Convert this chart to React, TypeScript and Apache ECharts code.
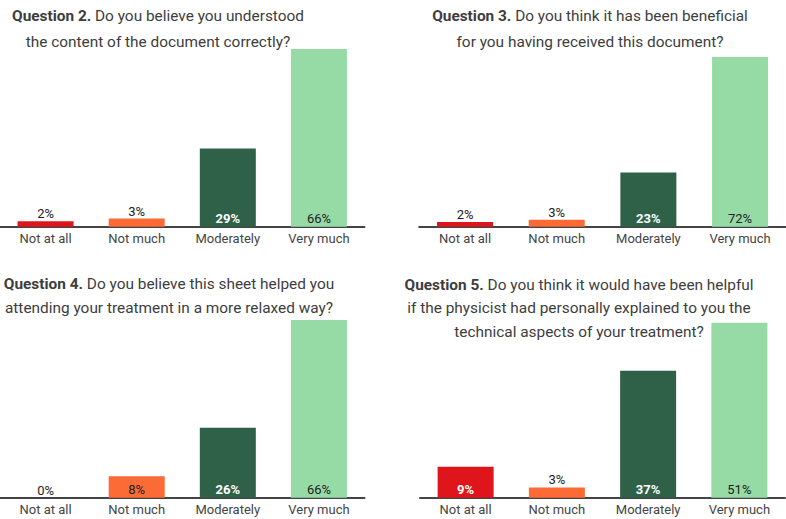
import React, { useEffect, useRef } from "react";
import * as echarts from "echarts";

const categories = ["Not at all", "Not much", "Moderately", "Very much"];
const q2Values = [2, 3, 29, 66];
const q3Values = [2, 3, 23, 72];
const q4Values = [0, 8, 26, 66];
const q5Values = [9, 3, 37, 51];
const barColors = ["#e0151b", "#fc6a35", "#2e6148", "#96dba5"];
const darkBar = [true, false, true, false];

const q2Title = ["{b|Question 2.} Do you believe you understood", "the content of the document correctly?"];
const q3Title = ["{b|Question 3.} Do you think it has been beneficial", "for you having received this document?"];
const q4Title = ["{b|Question 4.} Do you believe this sheet helped you", "attending your treatment in a more relaxed way?"];
const q5Title = [
  "{b|Question 5.} Do you think it would have been helpful",
  "if the physicist had personally explained to you the",
  "technical aspects of your treatment?",
];

const FONT = "Roboto";
const TITLE_SIZE = 15.4;

const panels = [
  { values: q2Values, title: q2Title, grid: { left: -1.5, top: 49, width: 366, height: 177.7 }, tx: 158, ty: [16, 42] },
  { values: q3Values, title: q3Title, grid: { left: 419.2, top: 57, width: 366.7, height: 169.7 }, tx: 590, ty: [16, 42] },
  { values: q4Values, title: q4Title, grid: { left: -1.5, top: 320, width: 366, height: 177.7 }, tx: 169, ty: [284, 308] },
  { values: q5Values, title: q5Title, grid: { left: 420, top: 322.7, width: 365, height: 175 }, tx: 579, ty: [285, 308, 332] },
];

export default function App() {
  const ref = useRef<HTMLDivElement>(null);
  useEffect(() => {
    document.body.style.margin = "0";
    if (!ref.current) return;
    const chart = echarts.init(ref.current, null, { renderer: "svg" });
    const grids: any[] = [];
    const xAxes: any[] = [];
    const yAxes: any[] = [];
    const series: any[] = [];
    const graphics: any[] = [];
    panels.forEach((p, i) => {
      grids.push({ ...p.grid, containLabel: false });
      xAxes.push({
        type: "category",
        gridIndex: i,
        data: categories,
        axisLine: { lineStyle: { color: "#444", width: 2 } },
        axisTick: { show: false },
        axisLabel: { color: "#444", fontSize: 13, fontFamily: FONT, margin: 5 },
      });
      yAxes.push({
        type: "value",
        gridIndex: i,
        min: 0,
        max: Math.max(...p.values),
        show: false,
        splitLine: { show: false },
      });
      series.push({
        type: "bar",
        xAxisIndex: i,
        yAxisIndex: i,
        barWidth: 56,
        data: p.values.map((v, k) => {
          const inside = v >= 5;
          const light = inside && darkBar[k];
          return {
            value: v,
            itemStyle: { color: barColors[k] },
            label: {
              show: true,
              position: inside ? "insideBottom" : "top",
              distance: inside ? 2 : 1,
              formatter: "{c}%",
              fontFamily: FONT,
              fontSize: 13,
              color: light ? "#ffffff" : "#222222",
              fontWeight: light ? "bold" : "normal",
            },
          };
        }),
      });
      p.title.forEach((line, j) => {
        graphics.push({
          type: "text",
          x: p.tx,
          y: p.ty[j],
          style: {
            text: line,
            fontFamily: FONT,
            fontSize: TITLE_SIZE,
            fill: "#3d3d3d",
            align: "center",
            verticalAlign: "middle",
            rich: {
              b: { fontFamily: FONT, fontSize: TITLE_SIZE, fontWeight: "bold", fill: "#3d3d3d", color: "#3d3d3d" },
            },
          },
        });
      });
    });
    chart.setOption({
      animation: false,
      backgroundColor: "#ffffff",
      grid: grids,
      xAxis: xAxes,
      yAxis: yAxes,
      series,
      graphic: graphics,
    });
    return () => chart.dispose();
  }, []);
  return <div ref={ref} style={{ width: 786, height: 519 }} />;
}
